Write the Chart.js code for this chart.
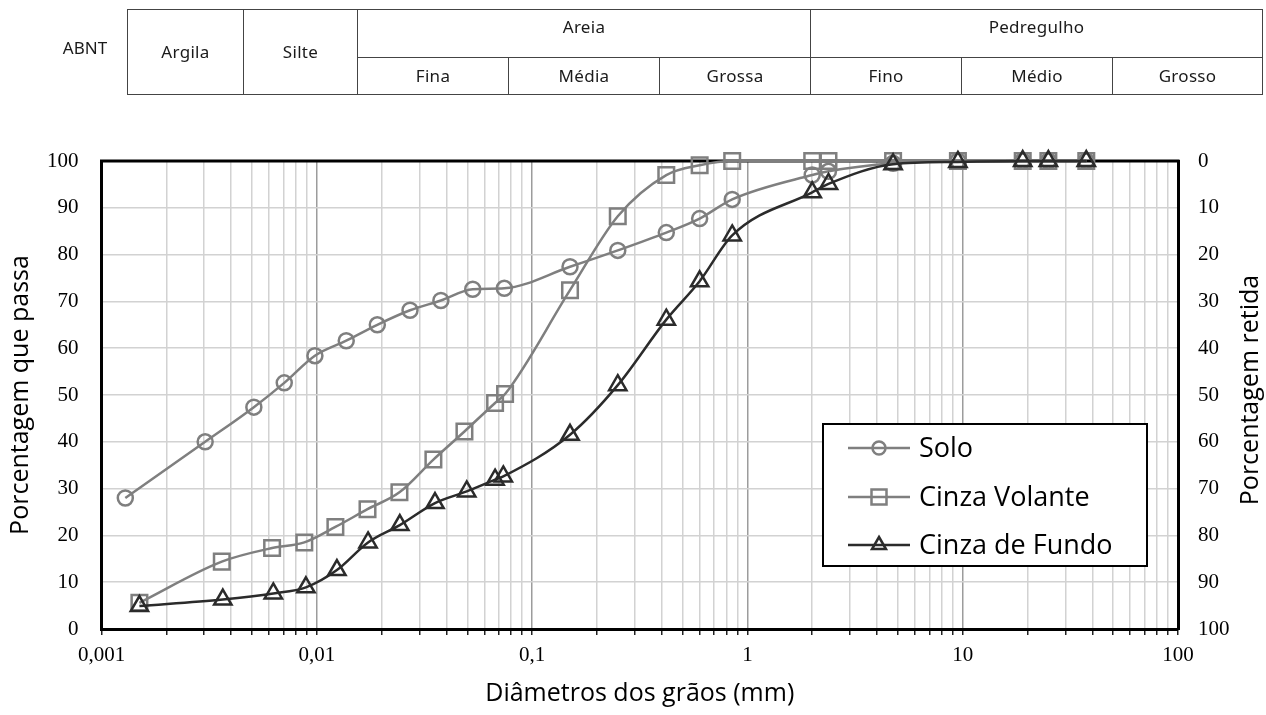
<!DOCTYPE html>
<html lang="pt">
<head>
<meta charset="utf-8">
<title>Curva granulométrica</title>
<script src="https://cdn.jsdelivr.net/npm/chart.js@4.4.1/dist/chart.umd.min.js"></script>
<style>
  html, body { margin: 0; padding: 0; background: #fff; }
  #wrap { position: relative; width: 1266px; height: 715px; overflow: hidden; }
  #chart { position: absolute; left: 0; top: 0; }
  #abnt { position: absolute; left: 55px; top: 36px; width: 60px; text-align: center;
          font-family: "Noto Sans", sans-serif; font-size: 17px; color: #1a1a1a; }
  #faixas { position: absolute; left: 127px; top: 9px; border-collapse: collapse; table-layout: fixed;
            font-family: "Noto Sans", sans-serif; font-size: 17px; letter-spacing: 0.3px; color: #1a1a1a; }
  #faixas td { border: 1.5px solid #444; text-align: center; padding: 0; line-height: 20px; }
  #faixas tr.r1 td.span2 { height: 83px; }
  #faixas tr.r1 td.top { vertical-align: top; padding-top: 7px; height: 40px; }
  #faixas tr.r2 td { height: 36px; }
</style>
</head>
<body>
<div id="wrap">
  <canvas id="chart" width="1266" height="715"></canvas>
  <div id="abnt">ABNT</div>
  <table id="faixas">
    <colgroup>
      <col style="width:116px"><col style="width:114px"><col style="width:151px"><col style="width:151px">
      <col style="width:151px"><col style="width:151px"><col style="width:151px"><col style="width:150px">
    </colgroup>
    <tr class="r1">
      <td rowspan="2" class="span2">Argila</td><td rowspan="2" class="span2">Silte</td>
      <td colspan="3" class="top">Areia</td><td colspan="3" class="top">Pedregulho</td>
    </tr>
    <tr class="r2">
      <td>Fina</td><td>Média</td><td>Grossa</td><td>Fino</td><td>Médio</td><td>Grosso</td>
    </tr>
  </table>
</div>
<script>
// --- dados (diâmetro em mm, % que passa) ---
const soloDiam = [0.00129, 0.00303, 0.0051, 0.00706, 0.0098, 0.0137, 0.0191, 0.0271, 0.0377, 0.053, 0.0743,
                  0.15, 0.25, 0.42, 0.6, 0.85, 2.0, 2.38, 4.75, 9.5, 19, 25, 37.5];
const soloPass = [28.0, 40.0, 47.4, 52.6, 58.4, 61.6, 65.0, 68.1, 70.2, 72.6, 72.8,
                  77.4, 80.9, 84.7, 87.7, 91.8, 97.0, 97.8, 99.5, 100, 100, 100, 100];

const volanteDiam = [0.0015, 0.00362, 0.0062, 0.00875, 0.0122, 0.0172, 0.0242, 0.0348, 0.0485, 0.0673, 0.0749,
                     0.15, 0.25, 0.42, 0.6, 0.85, 2.0, 2.38, 4.75, 9.5, 19, 25, 37.5];
const volantePass = [5.6, 14.4, 17.3, 18.5, 21.8, 25.6, 29.2, 36.2, 42.2, 48.3, 50.2,
                     72.4, 88.2, 97.0, 99.1, 100, 100, 100, 100, 100, 100, 100, 100];

const fundoDiam = [0.0015, 0.00366, 0.00628, 0.0089, 0.0124, 0.0173, 0.0243, 0.0354, 0.0497, 0.0673, 0.0735,
                   0.15, 0.25, 0.42, 0.6, 0.85, 2.0, 2.38, 4.75, 9.5, 19, 25, 37.5];
const fundoPass = [4.9, 6.3, 7.6, 8.9, 12.6, 18.5, 22.2, 26.9, 29.4, 31.9, 32.6,
                   41.5, 52.1, 66.1, 74.3, 84.1, 93.3, 95.1, 99.3, 99.8, 100, 100, 100];

const seriesNames = ['Solo', 'Cinza Volante', 'Cinza de Fundo'];
const xMajorTicks = [0.001, 0.01, 0.1, 1, 10, 100];
const xMajorLabels = ['0,001', '0,01', '0,1', '1', '10', '100'];

const GREY = '#7f7f7f', DARK = '#2b2b2b';
const SERIF = '"Liberation Serif", "Times New Roman", serif';
const SANS = '"Open Sans", "Noto Sans", sans-serif';

// grid lines at 1..9 of each decade
const xGridTicks = [];
xMajorTicks.forEach((m, i) => {
    if (i === xMajorTicks.length - 1) { xGridTicks.push(m); return; }
    for (let k = 1; k < 10; k++) xGridTicks.push(+(m * k).toPrecision(3));
});
const majorIndex = v => xMajorTicks.findIndex(m => Math.abs(m - v) / m < 1e-6);

const pts = (ds, ps) => ds.map((d, i) => ({ x: d, y: ps[i] }));

const lineSet = (label, data, color, style, radius, order) => ({
    label, data, order,
    borderColor: color, borderWidth: 2.5,
    pointStyle: style, pointRadius: radius, pointHoverRadius: radius,
    pointBorderColor: color, pointBorderWidth: 2.5,
    pointBackgroundColor: 'rgba(255,255,255,0)',
    cubicInterpolationMode: 'monotone',
    clip: false, yAxisID: 'y'
});

// little helper for the legend markers
function marker(ctx, style, x, y, r, color) {
    ctx.save();
    ctx.strokeStyle = color; ctx.lineWidth = 2.5;
    ctx.beginPath();
    if (style === 'circle') ctx.arc(x, y, r, 0, Math.PI * 2);
    else if (style === 'rect') ctx.rect(x - r, y - r, 2 * r, 2 * r);
    else { ctx.moveTo(x, y - r); ctx.lineTo(x + r * 0.87, y + r * 0.5); ctx.lineTo(x - r * 0.87, y + r * 0.5); ctx.closePath(); }
    ctx.stroke();
    ctx.restore();
}

const extras = {
    id: 'extras',
    beforeDatasetsDraw(chart) {
        const { ctx, chartArea: a } = chart;
        ctx.save();
        ctx.strokeStyle = '#000'; ctx.lineWidth = 3;
        ctx.beginPath(); ctx.moveTo(a.left - 1.5, a.top); ctx.lineTo(a.right + 1.5, a.top); ctx.stroke();
        ctx.restore();
    },
    afterDraw(chart) {
        const { ctx } = chart;
        // right axis title, read bottom to top like the left one
        ctx.save();
        ctx.translate(1251, 390);
        ctx.rotate(-Math.PI / 2);
        ctx.font = '25px ' + SANS; ctx.fillStyle = '#000';
        ctx.textAlign = 'center'; ctx.textBaseline = 'middle';
        ctx.fillText('Porcentagem retida', 0, 0);
        ctx.restore();

        // legend box
        const bx = 823, by = 424, bw = 324, bh = 142;
        ctx.save();
        ctx.fillStyle = '#fff'; ctx.fillRect(bx, by, bw, bh);
        ctx.strokeStyle = '#000'; ctx.lineWidth = 2; ctx.strokeRect(bx, by, bw, bh);
        const rows = [448, 497, 545];
        const cols = [GREY, GREY, DARK];
        const styles = ['circle', 'rect', 'triangle'];
        const sizes = [6.5, 7.5, 8];
        ctx.font = '27px ' + SANS; ctx.textBaseline = 'middle';
        rows.forEach((y, i) => {
            ctx.strokeStyle = cols[i]; ctx.lineWidth = 2.5;
            ctx.beginPath(); ctx.moveTo(848, y); ctx.lineTo(910, y); ctx.stroke();
            marker(ctx, styles[i], 879, y, sizes[i], cols[i]);
            ctx.fillStyle = '#000';
            ctx.fillText(seriesNames[i], 919, y + 1);
        });
        ctx.restore();
    }
};

new Chart(document.getElementById('chart'), {
    type: 'line',
    data: {
        datasets: [
            lineSet(seriesNames[0], pts(soloDiam, soloPass), GREY, 'circle', 7.5, 3),
            lineSet(seriesNames[1], pts(volanteDiam, volantePass), GREY, 'rect', 11, 2),
            lineSet(seriesNames[2], pts(fundoDiam, fundoPass), DARK, 'triangle', 10, 1)
        ]
    },
    options: {
        responsive: false,
        animation: false,
        devicePixelRatio: 1,
        layout: { padding: { top: 161, left: 0, right: 0, bottom: 0 } },
        plugins: { legend: { display: false }, tooltip: { enabled: false } },
        scales: {
            x: {
                type: 'logarithmic', min: 0.001, max: 100,
                afterBuildTicks: s => { s.ticks = xGridTicks.map(v => ({ value: v })); },
                afterFit: s => { s.height = 86; },
                ticks: {
                    autoSkip: false, maxRotation: 0, padding: 8, color: '#000',
                    font: { family: SERIF, size: 21 },
                    callback: v => { const i = majorIndex(v); return i >= 0 ? xMajorLabels[i] : ''; }
                },
                grid: {
                    color: c => majorIndex(c.tick.value) >= 0 ? '#9c9c9c' : '#d2d2d2',
                    lineWidth: 1.5, tickLength: 6, tickColor: '#222', tickWidth: 1.5
                },
                border: { display: true, color: '#000', width: 3 },
                title: { display: true, text: 'Diâmetros dos grãos (mm)', color: '#000',
                         font: { family: SANS, size: 25 }, padding: { top: 0, bottom: 6 } }
            },
            y: {
                position: 'left', min: 0, max: 100,
                afterFit: s => { s.width = 101.5; },
                ticks: { stepSize: 10, padding: 23, color: '#000', font: { family: SERIF, size: 21 } },
                grid: { color: '#d2d2d2', lineWidth: 1.5, drawTicks: false },
                border: { display: true, color: '#000', width: 3 },
                title: { display: true, text: 'Porcentagem que passa', color: '#000',
                         font: { family: SANS, size: 25 }, padding: { top: 6, bottom: 0 } }
            },
            y2: {
                position: 'right', min: 0, max: 100, reverse: true,
                afterFit: s => { s.width = 88; },
                ticks: { stepSize: 10, padding: 20, color: '#000', font: { family: SERIF, size: 21 } },
                grid: { drawOnChartArea: false, drawTicks: false },
                border: { display: true, color: '#000', width: 3 }
            }
        }
    },
    plugins: [extras]
});
</script>
</body>
</html>
